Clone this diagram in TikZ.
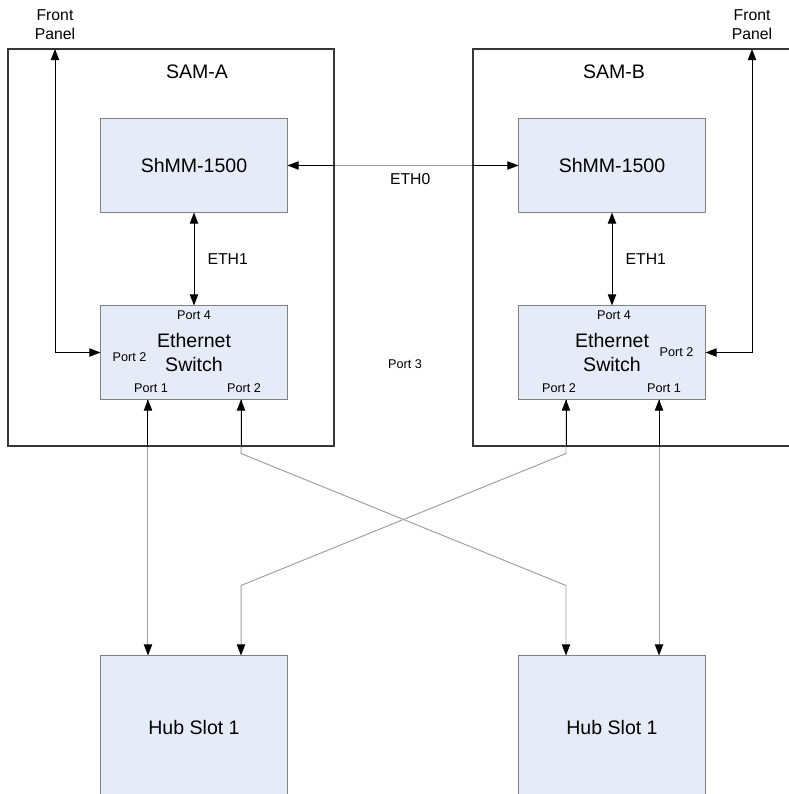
\documentclass[tikz,border=0pt]{standalone}
\usepackage{fontspec}
\setmainfont{Liberation Sans}
\usetikzlibrary{arrows.meta, positioning}
\definecolor{boxfill}{RGB}{230,236,247}
\definecolor{boxline}{RGB}{128,128,128}
\definecolor{wire}{RGB}{160,160,160}
\definecolor{frameline}{RGB}{55,55,55}
\tikzset{
    >={Triangle[length=2.8mm, width=2.1mm, color=black]},
    box/.style={rectangle, draw=boxline, fill=boxfill, line width=0.7pt, minimum width=4.65cm, minimum height=2.325cm, align=center, font=\fontsize{13.9}{16.4}\selectfont},
    samframe/.style={rectangle, draw=frameline, line width=0.8pt, minimum height=9.925cm},
    title/.style={font=\fontsize{13.9}{16.4}\selectfont},
    lbl/.style={font=\fontsize{11.2}{13.5}\selectfont, align=center, text=black},
    port/.style={font=\fontsize{9}{11}\selectfont, inner sep=1pt},
    arr/.style={<->, black, line width=0.7pt},
    link/.style={<->, wire, line width=0.7pt},
    inside/.style={black, line width=0.7pt}
}

\begin{document}
\begin{tikzpicture}[x=0.025cm, y=-0.025cm]
    \useasboundingbox (0,0) rectangle (788,794);

    % shelf managers
    \node[samframe, minimum width=8.15cm] (samA) at (171,247.5) {};
    \node[samframe, minimum width=8.175cm] (samB) at (636.5,247.5) {};
    \node[title] (samAlbl) at (197,72) {SAM-A};
    \node[title] (samBlbl) at (614,72) {SAM-B};

    \node[box] (shmmA) at (194,165.5) {ShMM-1500};
    \node[box] (shmmB) at (612,165.5) {ShMM-1500};
    \node[box] (swA) at (194,352.5) {Ethernet\\Switch};
    \node[box] (swB) at (612,352.5) {Ethernet\\Switch};
    \node[box, minimum height=3.6cm] (hubA) at (194,728) {Hub Slot 1};
    \node[box, minimum height=3.6cm] (hubB) at (612,728) {Hub Slot 1};

    % port labels
    \node[port] (p4A) at ([yshift=-0.25cm]swA.north) {Port 4};
    \node[port] (p1A) at ([xshift=-1.075cm, yshift=0.275cm]swA.south) {Port 1};
    \node[port] (p2A) at ([xshift=1.25cm, yshift=0.275cm]swA.south) {Port 2};
    \node[port] (pfA) at ([xshift=0.725cm, yshift=-0.11cm]swA.west) {Port 2};
    \node[port] (p4B) at ([xshift=0.05cm, yshift=-0.25cm]swB.north) {Port 4};
    \node[port] (p2B) at ([xshift=-1.325cm, yshift=0.275cm]swB.south) {Port 2};
    \node[port] (p1B) at ([xshift=1.3cm, yshift=0.275cm]swB.south) {Port 1};
    \node[port] (pfB) at ([xshift=-0.725cm]swB.east) {Port 2};
    \node[port] (p3) at (405,364) {Port 3};

    % front panel
    \coordinate (fpA) at (55,49);
    \coordinate (fpB) at (752,49);
    \node[lbl] (fpAlbl) at (55,25) {Front\\Panel};
    \node[lbl] (fpBlbl) at (752,25) {Front\\Panel};
    \draw[arr] (fpA) |- (swA.west);
    \draw[arr] (fpB) |- (swB.east);

    \draw[arr] (shmmA) -- node[lbl, right=6pt] {ETH1} (swA);
    \draw[arr] (shmmB) -- node[lbl, right=6pt] {ETH1} (swB);

    \draw[link] (shmmA) -- node[lbl, below=2pt, xshift=0.18cm] {ETH0} (shmmB);
    \draw[inside] (shmmA.east) -- (shmmA.east -| samA.east);
    \draw[inside] (shmmB.west) -- (shmmB.west -| samB.west);

    % switch to hub links
    \coordinate (swA1) at ([xshift=-1.15cm]swA.south);
    \coordinate (swA2) at ([xshift=1.175cm]swA.south);
    \coordinate (swB2) at ([xshift=-1.15cm]swB.south);
    \coordinate (swB1) at ([xshift=1.175cm]swB.south);
    \coordinate (hubA1) at ([xshift=-1.15cm]hubA.north);
    \coordinate (hubA2) at ([xshift=1.175cm]hubA.north);
    \coordinate (hubB2) at ([xshift=-1.15cm]hubB.north);
    \coordinate (hubB1) at ([xshift=1.175cm]hubB.north);

    \draw[link] (swA1) -- (hubA1);
    \draw[link] (swB1) -- (hubB1);
    \draw[link] (swA2) -- ++(0,54) -- ([yshift=1.75cm]hubB2) -- (hubB2);
    \draw[link] (swB2) -- ++(0,54) -- ([yshift=1.75cm]hubA2) -- (hubA2);
    \draw[inside] (swA1) -- (swA1 |- samA.south);
    \draw[inside] (swA2) -- (swA2 |- samA.south);
    \draw[inside] (swB2) -- (swB2 |- samB.south);
    \draw[inside] (swB1) -- (swB1 |- samB.south);
\end{tikzpicture}
\end{document}
